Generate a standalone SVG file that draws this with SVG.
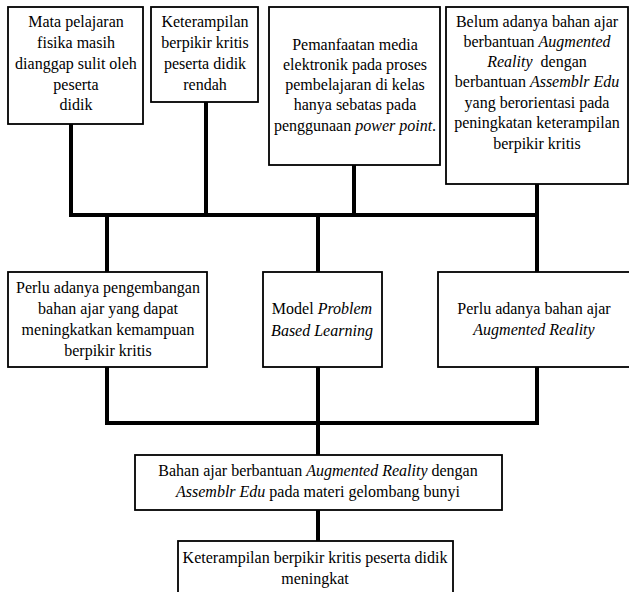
<svg xmlns="http://www.w3.org/2000/svg" width="629" height="592" viewBox="0 0 629 592">
<style>
.box{fill:#fff;stroke:#000;stroke-width:1.8}
.t{font-family:"Liberation Serif","Times New Roman",serif;font-size:16px;fill:#000;text-anchor:middle}
.i{font-style:italic}
.ln{stroke:#000;stroke-width:4;fill:none;stroke-linecap:square}
</style>
<g id="connectors">
<path class="ln" d="M71,124 V215 M206,102 V215 M354,165 V215 M537,184 V215 M71,215 H537"/>
<path class="ln" d="M107,215 V272 M318,215 V272 M537,215 V272"/>
<path class="ln" d="M107,367 V423 M318,367 V423 M537,367 V423 M107,423 H537"/>
<path class="ln" d="M318,423 V455 M318,510 V541"/>
</g>
<g id="n1">
<rect class="box" x="8" y="7" width="135" height="117"/>
<text class="t" x="76" y="27">Mata pelajaran</text>
<text class="t" x="76" y="48">fisika masih</text>
<text class="t" x="76" y="69">dianggap sulit oleh</text>
<text class="t" x="76" y="90">peserta</text>
<text class="t" x="76" y="110">didik</text>
</g>
<g id="n2">
<rect class="box" x="151" y="7" width="107" height="95"/>
<text class="t" x="205" y="27">Keterampilan</text>
<text class="t" x="205" y="48">berpikir kritis</text>
<text class="t" x="205" y="69">peserta didik</text>
<text class="t" x="205" y="90">rendah</text>
</g>
<g id="n3">
<rect class="box" x="269" y="7" width="171" height="158"/>
<text class="t" x="355" y="50">Pemanfaatan media</text>
<text class="t" x="355" y="70">elektronik pada proses</text>
<text class="t" x="355" y="90">pembelajaran di kelas</text>
<text class="t" x="355" y="110">hanya sebatas pada</text>
<text class="t" x="355" y="131">penggunaan <tspan class="i">power point</tspan>.</text>
</g>
<g id="n4">
<rect class="box" x="446" y="7" width="182" height="177"/>
<text class="t" x="537" y="27">Belum adanya bahan ajar</text>
<text class="t" x="537" y="47">berbantuan <tspan class="i">Augmented</tspan></text>
<text class="t" x="537" y="67"><tspan class="i">Reality</tspan>&#160; dengan</text>
<text class="t" x="537" y="87">berbantuan <tspan class="i">Assemblr Edu</tspan></text>
<text class="t" x="537" y="108">yang berorientasi pada</text>
<text class="t" x="537" y="128">peningkatan keterampilan</text>
<text class="t" x="537" y="149">berpikir kritis</text>
</g>
<g id="nA">
<rect class="box" x="8" y="272" width="199" height="95"/>
<text class="t" x="108" y="293">Perlu adanya pengembangan</text>
<text class="t" x="108" y="314">bahan ajar yang dapat</text>
<text class="t" x="108" y="335">meningkatkan kemampuan</text>
<text class="t" x="108" y="356">berpikir kritis</text>
</g>
<g id="nB">
<rect class="box" x="263" y="272" width="119" height="95"/>
<text class="t" x="322" y="314">Model <tspan class="i">Problem</tspan></text>
<text class="t" x="322" y="336" font-style="italic">Based Learning</text>
</g>
<g id="nC">
<rect class="box" x="438" y="272" width="200" height="95"/>
<text class="t" x="534" y="314">Perlu adanya bahan ajar</text>
<text class="t" x="534" y="335" font-style="italic">Augmented Reality</text>
</g>
<g id="nD">
<rect class="box" x="135" y="455" width="367" height="55"/>
<text class="t" x="318" y="476">Bahan ajar berbantuan <tspan class="i">Augmented Reality</tspan> dengan</text>
<text class="t" x="318" y="497"><tspan class="i">Assemblr Edu</tspan> pada materi gelombang bunyi</text>
</g>
<g id="nE">
<rect class="box" x="178" y="541" width="275" height="60"/>
<text class="t" x="315" y="563">Keterampilan berpikir kritis peserta didik</text>
<text class="t" x="315" y="584">meningkat</text>
</g>
</svg>
